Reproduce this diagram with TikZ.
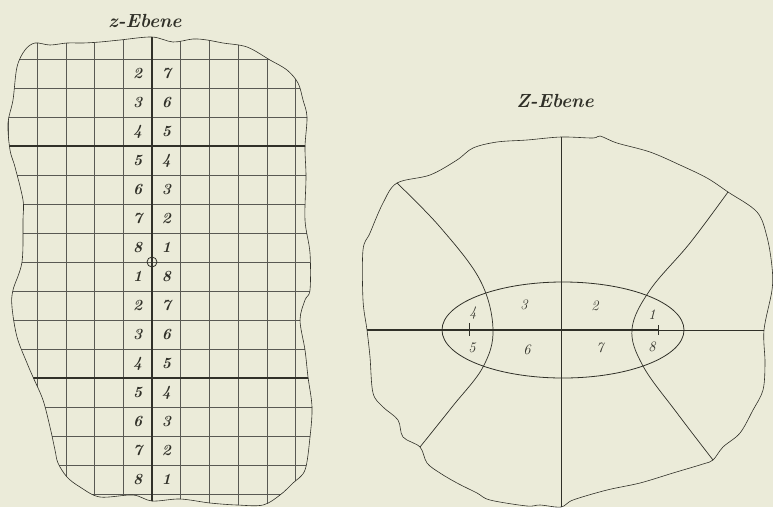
\documentclass[tikz,border=0pt]{standalone}
\usepackage{tikz}
\usetikzlibrary{calc}
\definecolor{papier}{RGB}{235,235,217}
\definecolor{tinte}{RGB}{48,48,40}
% Umriss der z-Ebene
\newcommand{\zRand}{plot[smooth cycle, tension=0.55] coordinates {
    (25,50) (35,43) (50,45) (67,43) (83,43) (100,42) (120,40) (152,37)
    (173,42) (193,39) (207,40) (223,43) (247,47) (270,60) (287,70) (298,83)
    (303,100) (307,117) (305,147) (306,177) (305,220) (310,253) (310,290)
    (305,300) (300,320) (305,350) (308,377) (312,407) (310,437) (305,470)
    (293,483) (280,495) (263,505) (237,505) (210,503) (180,499) (152,501)
    (133,495) (100,497) (80,487) (67,477) (58,463) (55,450) (50,427)
    (43,400) (33,377) (27,363) (17,337) (12,307) (13,290) (22,262)
    (23,220) (23,200) (15,167) (10,150) (8,123) (13,100) (17,67)}}

\begin{document}
\begin{tikzpicture}[
    x=1pt, y=-1pt,
    rand/.style={draw=tinte, line width=0.6pt},
    netz/.style={draw=tinte!80, line width=0.5pt},
    achse/.style={draw=tinte, line width=1.8pt},
    kurve/.style={draw=tinte, line width=0.7pt},
    titel/.style={font=\fontsize{19}{22}\selectfont\bfseries\itshape, text=tinte},
    ziffer/.style={font=\fontsize{15.5}{17}\selectfont\bfseries\itshape, text=tinte, inner sep=0pt},
    feld/.style={font=\fontsize{14.5}{16}\selectfont\itshape, text=tinte, inner sep=0pt}
]
\fill[papier] (0,0) rectangle (773,507);
\useasboundingbox (0,0) rectangle (773,507);

% z-Ebene
\node[titel] (ztitel) at (145,21) {z-Ebene};
\begin{scope}
  \clip \zRand;
  \begin{scope}[shift={(152,262)}, x=28.7pt, y=29pt]
    \draw[netz] (-6,-10) grid[step=1] (7,10);
    \draw[achse] (-6,4) -- (7,4);
    \draw[achse] (-6,-4) -- (7,-4);
    \draw[achse] (0,-10) -- (0,10);
    \node[circle, draw=tinte, line width=0.8pt, minimum size=10pt, inner sep=0pt] (nullpunkt) at (0,0) {};
    % Ziffern
    \node[ziffer] (za1) at (-0.5,6.5) {2};   \node[ziffer] (zb1) at (0.5,6.5) {7};
    \node[ziffer] (za2) at (-0.5,5.5) {3};   \node[ziffer] (zb2) at (0.5,5.5) {6};
    \node[ziffer] (za3) at (-0.5,4.5) {4};   \node[ziffer] (zb3) at (0.5,4.5) {5};
    \node[ziffer] (za4) at (-0.5,3.5) {5};   \node[ziffer] (zb4) at (0.5,3.5) {4};
    \node[ziffer] (za5) at (-0.5,2.5) {6};   \node[ziffer] (zb5) at (0.5,2.5) {3};
    \node[ziffer] (za6) at (-0.5,1.5) {7};   \node[ziffer] (zb6) at (0.5,1.5) {2};
    \node[ziffer] (za7) at (-0.5,0.5) {8};   \node[ziffer] (zb7) at (0.5,0.5) {1};
    \node[ziffer] (za8) at (-0.5,-0.5) {1};  \node[ziffer] (zb8) at (0.5,-0.5) {8};
    \node[ziffer] (za9) at (-0.5,-1.5) {2};  \node[ziffer] (zb9) at (0.5,-1.5) {7};
    \node[ziffer] (za10) at (-0.5,-2.5) {3}; \node[ziffer] (zb10) at (0.5,-2.5) {6};
    \node[ziffer] (za11) at (-0.5,-3.5) {4}; \node[ziffer] (zb11) at (0.5,-3.5) {5};
    \node[ziffer] (za12) at (-0.5,-4.5) {5}; \node[ziffer] (zb12) at (0.5,-4.5) {4};
    \node[ziffer] (za13) at (-0.5,-5.5) {6}; \node[ziffer] (zb13) at (0.5,-5.5) {3};
    \node[ziffer] (za14) at (-0.5,-6.5) {7}; \node[ziffer] (zb14) at (0.5,-6.5) {2};
    \node[ziffer] (za15) at (-0.5,-7.5) {8}; \node[ziffer] (zb15) at (0.5,-7.5) {1};
  \end{scope}
\end{scope}
\draw[rand] \zRand;

% Z-Ebene
\node[titel] (Ztitel) at (555,101) {Z-Ebene};
\coordinate (ecklo) at (397,183);
\coordinate (eckro) at (728,192);
\coordinate (ecklu) at (420,447);
\coordinate (eckru) at (713,460);
\coordinate (oben) at (561,137);
\coordinate (unten) at (561,507);
\coordinate (links) at (367,330);
\coordinate (rechts) at (764,330);
\coordinate (brennpunkt) at (658,330);
\coordinate (marke) at (469,330);

\draw[rand] plot[smooth cycle, tension=0.55] coordinates {
    (ecklo) (430,175) (457,160) (473,148) (497,142) (527,140) (oben)
    (593,138) (600,136) (617,143) (650,152) (680,165) (707,178) (eckro)
    (757,212) (767,237) (772,267) (772,290) (rechts) (765,363) (763,390)
    (753,410) (740,433) (723,447) (eckru) (703,464) (673,473) (640,483)
    (607,490) (573,500) (unten) (540,505) (527,506) (490,500) (477,493)
    (457,483) (440,473) (427,463) (ecklu) (403,437) (398,420) (383,407)
    (373,393) (370,357) (links) (363,300) (363,250) (370,233) (383,203)};

\draw[kurve] (oben) -- (unten);
\draw[kurve] (brennpunkt) -- (rechts);
\draw[achse] (links) -- (brennpunkt);
\draw[kurve] ($(marke)+(0,-7)$) -- ($(marke)+(0,6)$);
\draw[kurve, line width=1pt] ($(brennpunkt)+(0,-5)$) -- ($(brennpunkt)+(0,5)$);
\draw[kurve, line width=0.8pt] (563,330) ellipse [x radius=121, y radius=48];
\draw[kurve] plot[smooth, tension=0.6] coordinates {
    (ecklo) (440,227) (480,280) (493,329) (483,367) (452,407) (ecklu)};
\draw[kurve] plot[smooth, tension=0.6] coordinates {
    (eckro) (690,243) (650,290) (632,329) (643,366) (677,413) (eckru)};

\node[feld] (f4) at (473,313) {4};
\node[feld] (f3) at (524,305) {3};
\node[feld] (f2) at (595,306) {2};
\node[feld] (f1) at (652,315) {1};
\node[feld] (f5) at (472,348) {5};
\node[feld] (f6) at (527,350) {6};
\node[feld] (f7) at (600,348) {7};
\node[feld] (f8) at (652,347) {8};
\end{tikzpicture}
\end{document}
